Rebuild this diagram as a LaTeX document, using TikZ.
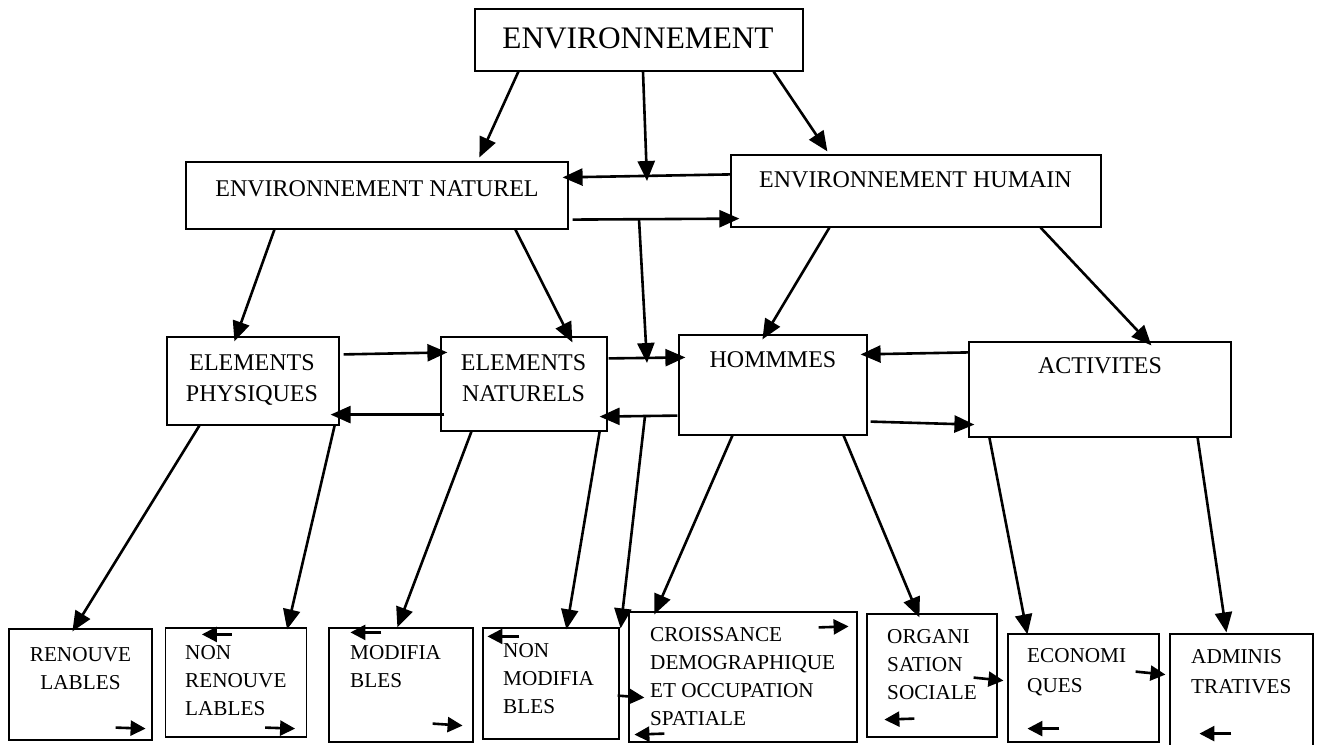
\documentclass[tikz,border=0pt]{standalone}
\usepackage{fontspec}
\setmainfont{Liberation Serif}
\usepackage{tikz}
\usetikzlibrary{arrows.meta}
\usepackage{xcolor}
\definecolor{ColLine}{RGB}{0,0,0}
\newcommand{\BigFont}{\fontsize{31.3}{38}\selectfont}
\newcommand{\MidFont}{\fontsize{24}{31}\selectfont}
\newcommand{\SmallFont}{\fontsize{21.2}{28}\selectfont}
\tikzstyle{BoxNode}=[draw=ColLine,line width=1.2pt,inner sep=0pt]
\tikzstyle{TextMid}=[inner sep=0pt,align=center,font=\MidFont]
\tikzstyle{TextSmall}=[inner sep=0pt,align=left,font=\SmallFont,anchor=north west]
\tikzstyle{EdgeArrow}=[ColLine,line width=2.6pt,-{Triangle[length=20pt,width=17pt]}]
\tikzstyle{SmallArrow}=[ColLine,line width=2.6pt,-{Triangle[length=15pt,width=15pt]}]

\begin{document}
\begin{tikzpicture}[x=1pt,y=-1pt]
        \useasboundingbox (0,0) rectangle (1319,744);
        % boxes
        \node[BoxNode,minimum width=328pt,minimum height=62pt](env)at(639,40){};
        \node[BoxNode,minimum width=382pt,minimum height=67pt](nat)at(377,195.5){};
        \node[BoxNode,minimum width=370pt,minimum height=72pt](hum)at(916,191){};
        \node[BoxNode,minimum width=172pt,minimum height=88pt](phys)at(253,381){};
        \node[BoxNode,minimum width=166pt,minimum height=94pt](elnat)at(524,384){};
        \node[BoxNode,minimum width=188pt,minimum height=100pt](hom)at(773,385){};
        \node[BoxNode,minimum width=262pt,minimum height=95pt](act)at(1100,389.5){};
        \node[BoxNode,minimum width=143pt,minimum height=111pt](renouve)at(80.5,684.5){};
        \node[BoxNode,minimum width=141pt,minimum height=109pt](nonren)at(236,682.5){};
        \node[BoxNode,minimum width=144pt,minimum height=114pt](modif)at(401,685){};
        \node[BoxNode,minimum width=136pt,minimum height=111pt](nonmod)at(551,683.5){};
        \node[BoxNode,minimum width=228pt,minimum height=130pt](crois)at(743,677){};
        \node[BoxNode,minimum width=130pt,minimum height=123pt](organi)at(932,675.5){};
        \node[BoxNode,minimum width=151pt,minimum height=108pt](econ)at(1083.5,688){};
        \node[BoxNode,minimum width=143pt,minimum height=114pt](admin)at(1241.5,691){};
        % texts
        \node[inner sep=0pt,font=\BigFont,anchor=base](env-t)at(638,48){ENVIRONNEMENT};
        \node[TextMid,anchor=base](nat-t)at(377,196){ENVIRONNEMENT NATUREL};
        \node[TextMid,anchor=base](hum-t)at(915.5,187){ENVIRONNEMENT HUMAIN};
        \node[TextMid,anchor=north](phys-t)at(252,354){ELEMENTS\\PHYSIQUES};
        \node[TextMid,anchor=north](elnat-t)at(523.5,354){ELEMENTS\\NATURELS};
        \node[TextMid,anchor=base](hom-t)at(773,367){HOMMMES};
        \node[TextMid,anchor=base](act-t)at(1100,373){ACTIVITES};
        \node[TextSmall,align=center,anchor=north](renouve-t)at(80.5,647.7){RENOUVE\\LABLES};
        \node[TextSmall](nonren-t)at(185,645.7){NON\\RENOUVE\\LABLES};
        \node[TextSmall](modif-t)at(350,645.7){MODIFIA\\BLES};
        \node[TextSmall](nonmod-t)at(503,643.7){NON\\MODIFIA\\BLES};
        \node[TextSmall](crois-t)at(650,627.7){CROISSANCE\\DEMOGRAPHIQUE\\ET OCCUPATION\\SPATIALE};
        \node[TextSmall](organi-t)at(887,629.7){ORGANI\\SATION\\SOCIALE};
        \node[TextSmall,font=\fontsize{21.2}{30}\selectfont](econ-t)at(1027,648.7){ECONOMI\\QUES};
        \node[TextSmall,font=\fontsize{21.2}{30}\selectfont](admin-t)at(1191,649){ADMINIS\\TRATIVES};
        % junctions on the arrows
        \coordinate(j1)at(647,181);
        \coordinate(j2)at(639,219);
        \coordinate(j3)at(647,363);
        \coordinate(j4)at(645,416);
        % top level
        \draw[EdgeArrow]([xshift=44]env.south west)--([xshift=294,yshift=4]nat.north west);
        \draw[EdgeArrow]([xshift=4]env.south)--(j1);
        \draw[EdgeArrow]([xshift=-30]env.south east)--([xshift=97,yshift=3]hum.north west);
        \draw[EdgeArrow]([yshift=-20]hum.north west)--([xshift=-6,yshift=-16]nat.north east);
        \draw[EdgeArrow]([xshift=4,yshift=10]nat.south east)--([xshift=9,yshift=9]hum.south west);
        \draw[EdgeArrow](j2)--(j3);
        % second level
        \draw[EdgeArrow]([xshift=89]nat.south west)--([xshift=68,yshift=-5]phys.north west);
        \draw[EdgeArrow]([xshift=330]nat.south west)--([xshift=132,yshift=-6]elnat.north west);
        \draw[EdgeArrow]([xshift=99]hum.south west)--([xshift=84,yshift=-5]hom.north west);
        \draw[EdgeArrow]([xshift=-61]hum.south east)--([xshift=183,yshift=-4]act.north west);
        \draw[EdgeArrow]([xshift=4,yshift=-18]phys.north east)--([xshift=7,yshift=-16]elnat.north west);
        \draw[EdgeArrow]([xshift=4,yshift=17]elnat.south west)--([xshift=-9,yshift=11]phys.south east);
        \draw[EdgeArrow]([xshift=1,yshift=-22]elnat.north east)--([xshift=7,yshift=-23]hom.north west);
        \draw[EdgeArrow]([xshift=-1,yshift=20]hom.south west)--([xshift=-8,yshift=15]elnat.south east);
        \draw[EdgeArrow]([yshift=-11]act.north west)--([xshift=-7,yshift=-20]hom.north east);
        \draw[EdgeArrow]([xshift=3,yshift=14]hom.south east)--([xshift=6,yshift=13]act.south west);
        % third level
        \draw[EdgeArrow]([xshift=33]phys.south west)--([xshift=64,yshift=-3]renouve.north west);
        \draw[EdgeArrow]([xshift=-5]phys.south east)--([xshift=-20,yshift=-2]nonren.north east);
        \draw[EdgeArrow]([xshift=31]elnat.south west)--([xshift=69]modif.north west);
        \draw[EdgeArrow]([xshift=-8]elnat.south east)--([xshift=84,yshift=-2]nonmod.north west);
        \draw[EdgeArrow](j4)--([xshift=1,yshift=-1]nonmod.north east);
        \draw[EdgeArrow]([xshift=54]hom.south west)--([xshift=26,yshift=-3]crois.north west);
        \draw[EdgeArrow]([xshift=-24]hom.south east)--([xshift=53,yshift=-4]organi.north west);
        \draw[EdgeArrow]([xshift=21]act.south west)--([xshift=20,yshift=-1]econ.north west);
        \draw[EdgeArrow]([xshift=-34]act.south east)--([xshift=57,yshift=1]admin.north west);
        % small arrows in the bottom boxes
        \draw[SmallArrow]([xshift=-37,yshift=13]renouve.south east)--([xshift=-7,yshift=12]renouve.south east);
        \draw[SmallArrow]([xshift=67,yshift=-7]nonren.north west)--([xshift=37,yshift=-7]nonren.north west);
        \draw[SmallArrow]([xshift=-42,yshift=10]nonren.south east)--([xshift=-12,yshift=9]nonren.south east);
        \draw[SmallArrow]([xshift=53,yshift=-5]modif.north west)--([xshift=22,yshift=-5]modif.north west);
        \draw[SmallArrow]([xshift=-41,yshift=19]modif.south east)--([xshift=-11,yshift=17]modif.south east);
        \draw[SmallArrow]([xshift=37,yshift=-9]nonmod.north west)--([xshift=5,yshift=-9]nonmod.north west);
        \draw[SmallArrow]([xshift=-2,yshift=44]nonmod.south east)--([xshift=16,yshift=45]crois.south west);
        \draw[SmallArrow]([xshift=-39,yshift=-16]crois.north east)--([xshift=-9,yshift=-15]crois.north east);
        \draw[SmallArrow]([xshift=36,yshift=9]crois.south west)--([xshift=6,yshift=8]crois.south west);
        \draw[SmallArrow]([xshift=48,yshift=19]organi.south west)--([xshift=18,yshift=18]organi.south west);
        \draw[SmallArrow]([xshift=-24,yshift=60]organi.south east)--([xshift=-4,yshift=62]econ.south west);
        \draw[SmallArrow]([xshift=52,yshift=14]econ.south west)--([xshift=20,yshift=14]econ.south west);
        \draw[SmallArrow]([xshift=-24,yshift=71]econ.south east)--([xshift=-4,yshift=74]admin.south west);
        \draw[SmallArrow]([xshift=62,yshift=15]admin.south west)--([xshift=30,yshift=15]admin.south west);
    \end{tikzpicture}
\end{document}
